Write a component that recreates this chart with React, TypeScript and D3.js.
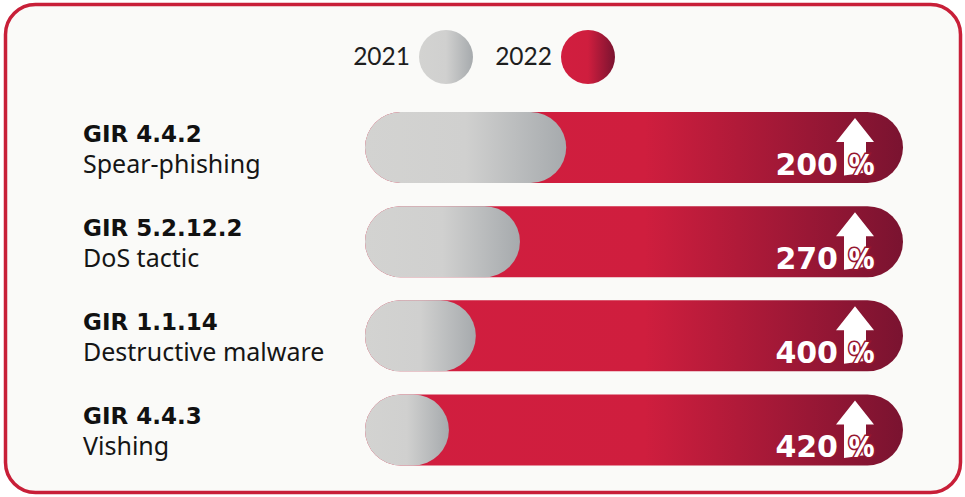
import React from "react";
import * as d3 from "d3";

const codes = ["GIR 4.4.2", "GIR 5.2.12.2", "GIR 1.1.14", "GIR 4.4.3"];
const descriptions = ["Spear-phishing", "DoS tactic", "Destructive malware", "Vishing"];
const values2021 = [37.4, 28.8, 20.6, 15.6];
const values2022 = [100, 100, 100, 100];
const increases = ["200", "270", "400", "420"];
const legendLabels = ["2021", "2022"];

const W = 965;
const H = 497;

export default function App() {
  const x = d3.scaleLinear().domain([0, 100]).range([365, 903]);
  const y = d3.scalePoint<string>().domain(codes).range([147.5, 430]);
  const barH = 71;
  const r = barH / 2;
  const lato = "Lato, 'Noto Sans', sans-serif";
  const noto = "'Noto Sans', sans-serif";
  const dejavu = "'DejaVu Sans', sans-serif";

  const arrow = (cx: number, cy: number) => {
    const p = d3.path();
    p.moveTo(cx, cy - 29.5);
    p.lineTo(cx + 19, cy - 5.5);
    p.lineTo(cx + 11, cy - 5.5);
    p.lineTo(cx + 11, cy + 25);
    p.lineTo(cx - 11, cy + 28);
    p.lineTo(cx - 11, cy - 5.5);
    p.lineTo(cx - 19, cy - 5.5);
    p.closePath();
    return p.toString();
  };

  return (
    <div style={{ position: "fixed", left: 0, top: 0 }}>
      <svg width={W} height={H} style={{ display: "block" }}>
        <defs>
          <linearGradient id="grayG" x1="0" x2="1" y1="0" y2="0">
            <stop offset="0" stopColor="#d3d3d1" />
            <stop offset="0.5" stopColor="#d0d0cf" />
            <stop offset="1" stopColor="#a6aaad" />
          </linearGradient>
          <linearGradient id="redG" x1="0" x2="1" y1="0" y2="0">
            <stop offset="0" stopColor="#d11e3f" />
            <stop offset="0.5" stopColor="#cf1e3e" />
            <stop offset="1" stopColor="#7a1330" />
          </linearGradient>
          <linearGradient id="redBar" gradientUnits="userSpaceOnUse" x1={x(0)} x2={x(100)} y1="0" y2="0">
            <stop offset="0" stopColor="#d11e3f" />
            <stop offset="0.52" stopColor="#cf1e3e" />
            <stop offset="1" stopColor="#7a1330" />
          </linearGradient>
        </defs>
        <rect x={0} y={0} width={W} height={H} fill="#ffffff" />
        <rect x={5.5} y={4.5} width={955} height={488} rx={30} ry={30} fill="#fafaf8" stroke="#c81f38" strokeWidth={3.5} />

        {legendLabels.map((lab, i) => {
          const cx = i === 0 ? 446 : 588;
          return (
            <g key={lab}>
              <text x={cx - 36} y={65} textAnchor="end" fontFamily={lato} fontSize={24.5} fill="#1e1e1e">{lab}</text>
              <circle cx={cx} cy={57} r={27} fill={i === 0 ? "url(#grayG)" : "url(#redG)"} />
            </g>
          );
        })}

        {codes.map((c, i) => {
          const cy = y(c)!;
          const top = cy - r;
          return (
            <g key={c}>
              <text x={83} y={cy - 6} fontFamily={dejavu} fontWeight={700} fontSize={23} fill="#111">{c}</text>
              <text x={83} y={cy + 25} fontFamily={noto} fontSize={25} fill="#151515">{descriptions[i]}</text>
              <rect x={x(0)} y={top} width={x(values2022[i]) - x(0)} height={barH} rx={r} ry={r} fill="url(#redBar)" />
              <rect x={x(0)} y={top} width={x(values2021[i]) - x(0)} height={barH} rx={r} ry={r} fill="url(#grayG)" />
              <path d={arrow(855, cy)} fill="#ffffff" />
              <text x={838} y={cy + 27} textAnchor="end" fontFamily={dejavu} fontWeight={700} fontSize={30} fill="#ffffff">{increases[i]}</text>
              <text x={861.5} y={cy + 27} textAnchor="middle" fontFamily={noto} fontWeight={700} fontSize={29} fill="#ffffff" stroke="#95162f" strokeWidth={3} style={{ paintOrder: "stroke" }}>%</text>
            </g>
          );
        })}
      </svg>
    </div>
  );
}
